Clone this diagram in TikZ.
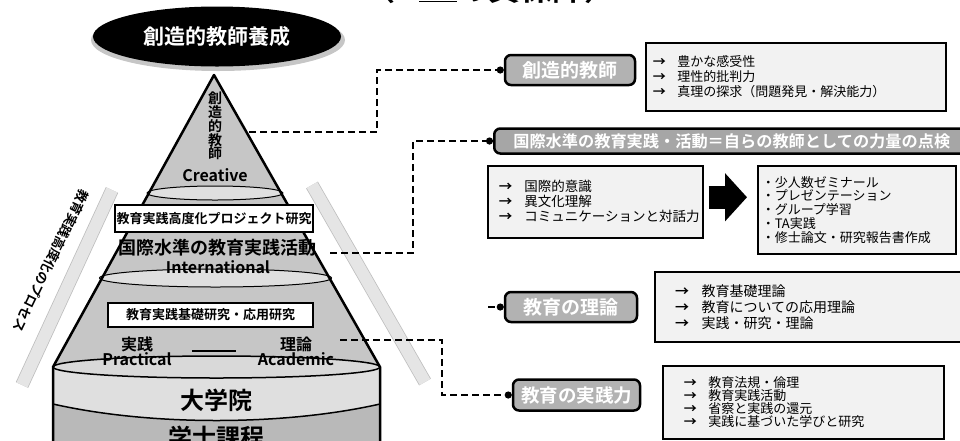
\documentclass[tikz,border=0pt]{standalone}
\usepackage{fontspec}
\setmainfont{Noto Sans CJK JP}[BoldFont={Noto Sans CJK JP Bold}]
\usetikzlibrary{positioning,arrows.meta,shapes.geometric}
\newcommand{\fsz}[1]{\fontsize{#1}{#1}\selectfont}
\newcommand{\itemarr}{\makebox[1.9em][l]{\textbf{→}}}

\begin{document}
\begin{tikzpicture}[x=1pt, y=-1pt,
		goal/.style = {
			ellipse, fill=black, text=white,
			minimum width=248pt, minimum height=60pt,
			font=\fsz{21}\bfseries
		},
		tag/.style = {
			draw, line width=2.5pt, rounded corners=6pt,
			fill=gray!60, text=white, inner sep=0pt,
			font=\fsz{19}\bfseries
		},
		list/.style = {
			draw, line width=1.5pt, fill=gray!10,
			align=left, anchor=north west, inner ysep=0pt
		},
		stage/.style = {
			draw, line width=2pt, fill=white, inner sep=0pt,
			font=\fsz{13}\bfseries
		},
		lvl/.style = {inner sep=0pt, font=\fsz{17}\bfseries},
		conn/.style = {line width=2.5pt, dash pattern=on 7pt off 4pt, -{Circle[length=7pt]}},
		stripe/.style = {gray!50, line width=0.8pt, double=gray!20, double distance=12pt},
		bigarr/.style = {line width=23pt, -{Triangle[length=22pt,width=47pt]}}
		]
		\useasboundingbox (0,0) rectangle (960,440);

		% title, cut at the top
		\node [anchor=base, inner sep=0pt, font=\fsz{32}\bfseries] (title) at (490,0) {（4\,\underline{+2}の質保障）};

		% goal
		\fill[gray!45] (218,40) ellipse [x radius=127pt, y radius=31pt];
		\node [goal] (goal) at (217,36.5) {創造的教師養成};

		% side stripes
		\draw[stripe] (112,190) -- (22,385);
		\draw[stripe] (312,185) -- (425,382);
		\node [lvl, font=\fsz{13}\bfseries, rotate=-116] (proc) at (51,261) {教育実践高度化のプロセス};

		% pyramid and base
		\fill[gray!45] (214,75) -- (53,367) -- (380,367) -- cycle;
		\draw[line width=1pt, fill=gray!25] (215,193) ellipse [x radius=68pt, y radius=7pt];
		\draw[line width=1pt, fill=gray!25] (215.5,278) ellipse [x radius=116pt, y radius=9pt];
		\fill[gray!55] (53,367) rectangle (380,445);
		\fill[gray!25] (53,367) -- (53,404) .. controls (150,426) and (283,426) .. (380,404) -- (380,367) -- cycle;
		\draw[line width=1.5pt] (53,404) .. controls (150,426) and (283,426) .. (380,404);
		\draw[line width=1.5pt, fill=gray!30] (216.5,367) ellipse [x radius=163.5pt, y radius=11pt];
		\draw[line width=2.5pt, line join=round] (53,445) -- (53,367) -- (214,75) -- (380,367) -- (380,445);

		\node [lvl, align=center, font=\fontsize{14}{13.8}\selectfont\bfseries] (vert) at (215,126) {創\\造\\的\\教\\師};
		\node [lvl, font=\fsz{16}\bfseries] (crtv) at (215,175) {Creative};
		\node [stage, minimum width=198pt, minimum height=27pt] (proj) at (214,218.5) {教育実践高度化プロジェクト研究};
		\node [lvl, font=\fsz{18}\bfseries] (intl) at (217,248) {国際水準の教育実践活動};
		\node [lvl, font=\fsz{16}\bfseries] (intlen) at (218,267) {International};
		\node [stage, minimum width=205pt, minimum height=24pt] (basic) at (210.5,315) {教育実践基礎研究・応用研究};
		\node [lvl, align=center, font=\fontsize{16}{15}\selectfont\bfseries] (prac) at (137,351) {実践\\Practical};
		\node [lvl, align=center, font=\fontsize{16}{15}\selectfont\bfseries] (acad) at (296,351) {理論\\Academic};
		\draw[line width=1.5pt, shorten <=20pt, shorten >=22pt] (prac) -- (acad);
		\node [lvl, font=\fsz{24}\bfseries] (grad) at (216,400) {大学院};
		\node [lvl, font=\fsz{24}\bfseries] (ugrad) at (216,437) {学士課程};

		% right side
		\node [tag, minimum width=130pt, minimum height=30pt] (crea) at (570,70) {創造的教師};
		\node [list, minimum width=300pt, minimum height=68pt, inner xsep=7pt, text width=286pt,
			font=\fontsize{13}{15}\selectfont] (crealist) at (645,42)
			{\itemarr 豊かな感受性\\ \itemarr 理性的批判力\\ \itemarr 真理の探求（問題発見・解決能力）};

		\node [tag, anchor=west, minimum width=475pt, minimum height=25pt, fill=gray!70,
			font=\fsz{16.2}\bfseries] (banner) at (493,141) {国際水準の教育実践・活動＝自らの教師としての力量の点検};
		\node [list, minimum width=215pt, minimum height=72pt, inner xsep=11pt, text width=193pt,
			font=\fontsize{13.5}{15}\selectfont] (intllist) at (487,165)
			{\itemarr 国際的意識\\ \itemarr 異文化理解\\ \itemarr コミュニケーションと対話力};
		\node [list, minimum width=198pt, minimum height=88pt, inner xsep=4pt, text width=190pt,
			font=\fontsize{13}{13.8}\selectfont] (prlist) at (757,165)
			{・少人数ゼミナール\\ ・プレゼンテーション\\ ・グループ学習\\ ・TA実践\\ ・修士論文・研究報告書作成};
		\draw[bigarr] ([shift={(5,-4.5)}]intllist.east) -- ([shift={(-10,-4.5)}]intllist.east -| prlist.west);

		\node [tag, minimum width=132pt, minimum height=30pt] (riron) at (571,307) {教育の理論};
		\node [list, anchor=west, minimum width=317pt, minimum height=70pt, inner xsep=20pt, text width=277pt,
			font=\fontsize{14}{16}\selectfont, right=16pt of riron] (rironlist)
			{\itemarr 教育基礎理論\\ \itemarr 教育についての応用理論\\ \itemarr 実践・研究・理論};

		\node [tag, minimum width=127pt, minimum height=31pt, font=\fsz{18.5}\bfseries] (jissen) at (576.5,395) {教育の実践力};
		\node [list, minimum width=281pt, minimum height=73pt, inner xsep=21pt, text width=239pt,
			font=\fontsize{13}{12.8}\selectfont] (jissenlist) at (662,365)
			{\itemarr 教育法規・倫理\\ \itemarr 教育実践活動\\ \itemarr 省察と実践の還元\\ \itemarr 実践に基づいた学びと研究};

		% dashed links
		\coordinate (c1) at (249,132);
		\coordinate (c2) at (330,253);
		\coordinate (c3) at (340,340);
		\coordinate (c4) at (488,307);
		\draw[conn] (c1) -- (377,132) |- (crea.west);
		\draw[conn] (c2) -- (413,253) |- (banner.west);
		\draw[conn] (c3) -- (442,340) |- (jissen.west);
		\draw[conn] (c4) -- (riron.west);
	\end{tikzpicture}
\end{document}
